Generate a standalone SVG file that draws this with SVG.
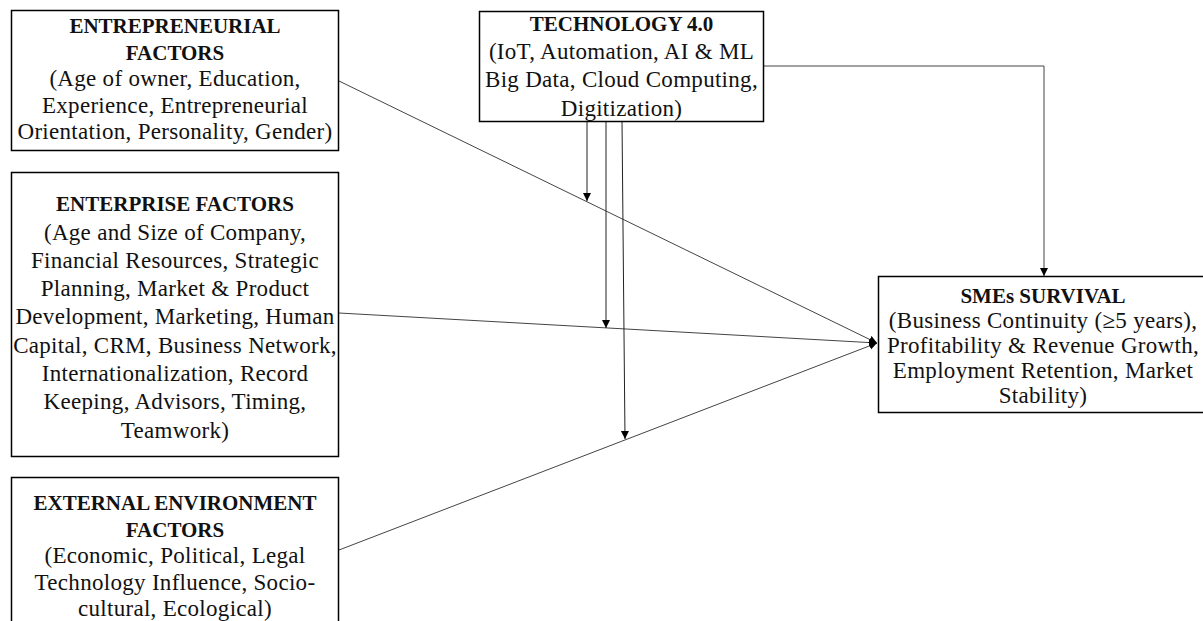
<svg xmlns="http://www.w3.org/2000/svg" width="1203" height="621" viewBox="0 0 1203 621">
<style>
.box{fill:#fff;stroke:#000;stroke-width:1.5}
text{font-family:"Liberation Serif","Times New Roman",serif;font-size:23px;letter-spacing:0.3px;fill:#111;text-anchor:middle}
.t{font-weight:bold;font-size:21px;letter-spacing:0}
.c{fill:none;stroke:#444;stroke-width:1}
.v{fill:none;stroke:#222;stroke-width:1}
</style>
<defs>
<marker id="ah" markerUnits="userSpaceOnUse" markerWidth="9" markerHeight="9" refX="8" refY="4" orient="auto">
<path d="M0,0 L8,4 L0,8 z" fill="#000"/>
</marker>
</defs>
<rect width="1203" height="621" fill="#fff"/>
<g id="connectors">
<line class="c" x1="339" y1="81" x2="877" y2="343" marker-end="url(#ah)"/>
<line class="c" x1="339" y1="313" x2="877" y2="343" marker-end="url(#ah)"/>
<line class="c" x1="339" y1="550" x2="877" y2="343" marker-end="url(#ah)"/>
<polyline class="c" points="764,66 1044,66 1044,276" marker-end="url(#ah)"/>
<line class="v" x1="587" y1="121" x2="587" y2="201" marker-end="url(#ah)"/>
<line class="v" x1="606" y1="121" x2="606" y2="328" marker-end="url(#ah)"/>
<line class="v" x1="622" y1="121" x2="625" y2="439" marker-end="url(#ah)"/>
</g>
<g id="entrepreneurial">
<rect class="box" x="11.5" y="10.5" width="327" height="140"/>
<text class="t" x="175" y="33">ENTREPRENEURIAL</text>
<text class="t" x="175" y="59.5">FACTORS</text>
<text x="175" y="86">(Age of owner, Education,</text>
<text x="175" y="112.5">Experience, Entrepreneurial</text>
<text x="175" y="139">Orientation, Personality, Gender)</text>
</g>
<g id="enterprise">
<rect class="box" x="11.5" y="172.5" width="327" height="284"/>
<text class="t" x="175" y="211">ENTERPRISE FACTORS</text>
<text x="175" y="239.5">(Age and Size of Company,</text>
<text x="175" y="267.5">Financial Resources, Strategic</text>
<text x="175" y="296">Planning, Market &amp; Product</text>
<text x="175" y="324">Development, Marketing, Human</text>
<text x="175" y="352.5">Capital, CRM, Business Network,</text>
<text x="175" y="381">Internationalization, Record</text>
<text x="175" y="409">Keeping, Advisors, Timing,</text>
<text x="175" y="437.5">Teamwork)</text>
</g>
<g id="external">
<rect class="box" x="11.5" y="477.5" width="327" height="160"/>
<text class="t" x="175" y="510">EXTERNAL ENVIRONMENT</text>
<text class="t" x="175" y="536.5">FACTORS</text>
<text x="175" y="563">(Economic, Political, Legal</text>
<text x="175" y="589.5">Technology Influence, Socio-</text>
<text x="175" y="616">cultural, Ecological)</text>
</g>
<g id="technology">
<rect class="box" x="479.5" y="11.5" width="284" height="110"/>
<text class="t" x="621.5" y="31">TECHNOLOGY 4.0</text>
<text x="621.5" y="59">(IoT, Automation, AI &amp; ML</text>
<text x="621.5" y="87">Big Data, Cloud Computing,</text>
<text x="621.5" y="115.5">Digitization)</text>
</g>
<g id="survival">
<rect class="box" x="878.5" y="276.5" width="330" height="136"/>
<text class="t" x="1043" y="303">SMEs SURVIVAL</text>
<text x="1043" y="328">(Business Continuity (≥5 years),</text>
<text x="1043" y="353">Profitability &amp; Revenue Growth,</text>
<text x="1043" y="378">Employment Retention, Market</text>
<text x="1043" y="403">Stability)</text>
</g>
</svg>
